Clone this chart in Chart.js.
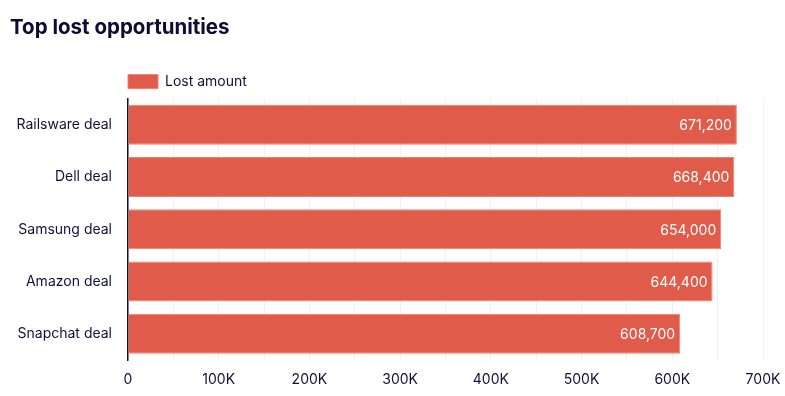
<!DOCTYPE html>
<html>
<head>
<meta charset="utf-8">
<script src="https://cdn.jsdelivr.net/npm/chart.js@4.4.1/dist/chart.umd.min.js"></script>
<style>
  html, body { margin: 0; padding: 0; background: #fff; }
  #wrap { width: 785px; height: 396px; }
</style>
</head>
<body>
<div id="wrap"><canvas id="chart"></canvas></div>
<script>
const categories = ["Railsware deal", "Dell deal", "Samsung deal", "Amazon deal", "Snapchat deal"];
const lostAmounts = [671200, 668400, 654000, 644400, 608700];
const seriesName = "Lost amount";
const axisMax = 700000;
const axisStep = 50000;

const ink = "#12113a";

// put the legend at the left edge of the plot instead of the canvas edge
const legendShift = {
  id: "legendShift",
  afterLayout(chart) {
    const lg = chart.legend;
    if (lg) lg.left = chart.chartArea.left - lg.options.labels.padding;
  }
};

// white value labels at the end of each bar
const barValues = {
  id: "barValues",
  afterDatasetsDraw(chart) {
    const ctx = chart.ctx;
    const meta = chart.getDatasetMeta(0);
    ctx.save();
    ctx.font = "14px Inter";
    ctx.fillStyle = "#ffffff";
    ctx.textAlign = "right";
    ctx.textBaseline = "middle";
    meta.data.forEach((bar, i) => {
      const v = chart.data.datasets[0].data[i];
      ctx.fillText(v.toLocaleString("en-US"), bar.x - 5, bar.y + 1);
    });
    ctx.restore();
  }
};

Chart.defaults.font.family = "Inter";
Chart.defaults.color = ink;

new Chart(document.getElementById("chart"), {
  type: "bar",
  plugins: [legendShift, barValues],
  data: {
    labels: categories,
    datasets: [{
      label: seriesName,
      data: lostAmounts,
      backgroundColor: "#e05b49",
      borderColor: "#f2806f",
      borderWidth: 1,
      barPercentage: 0.85,
      categoryPercentage: 0.9
    }]
  },
  options: {
    indexAxis: "y",
    responsive: true,
    maintainAspectRatio: false,
    animation: false,
    layout: { padding: { left: 10, right: 22, top: 0, bottom: 8 } },
    plugins: {
      tooltip: { enabled: false },
      title: {
        display: true,
        text: "Top lost opportunities",
        align: "start",
        color: "#0d0c33",
        font: { size: 20.5, weight: "bold" },
        padding: { top: 16, bottom: 24 }
      },
      legend: {
        display: true,
        align: "start",
        labels: {
          boxWidth: 30,
          boxHeight: 14,
          padding: 10,
          color: ink,
          font: { size: 14 }
        }
      }
    },
    scales: {
      x: {
        min: 0,
        max: axisMax,
        afterFit: (s) => { s.height = 28; s.paddingRight = 0; s.paddingLeft = 0; },
        ticks: {
          stepSize: axisStep,
          autoSkip: false,
          maxRotation: 0,
          padding: 11,
          color: ink,
          font: { size: 14 },
          callback: (v) => v % 100000 === 0 ? (v === 0 ? "0" : v / 1000 + "K") : ""
        },
        grid: { color: "#f1f1f4", lineWidth: 1, drawTicks: false },
        border: { display: false }
      },
      y: {
        afterFit: (s) => { s.width = 118; },
        ticks: { padding: 8, color: ink, font: { size: 14 } },
        grid: { display: false },
        border: { display: true, color: ink, width: 1.5 }
      }
    }
  }
});
</script>
</body>
</html>
